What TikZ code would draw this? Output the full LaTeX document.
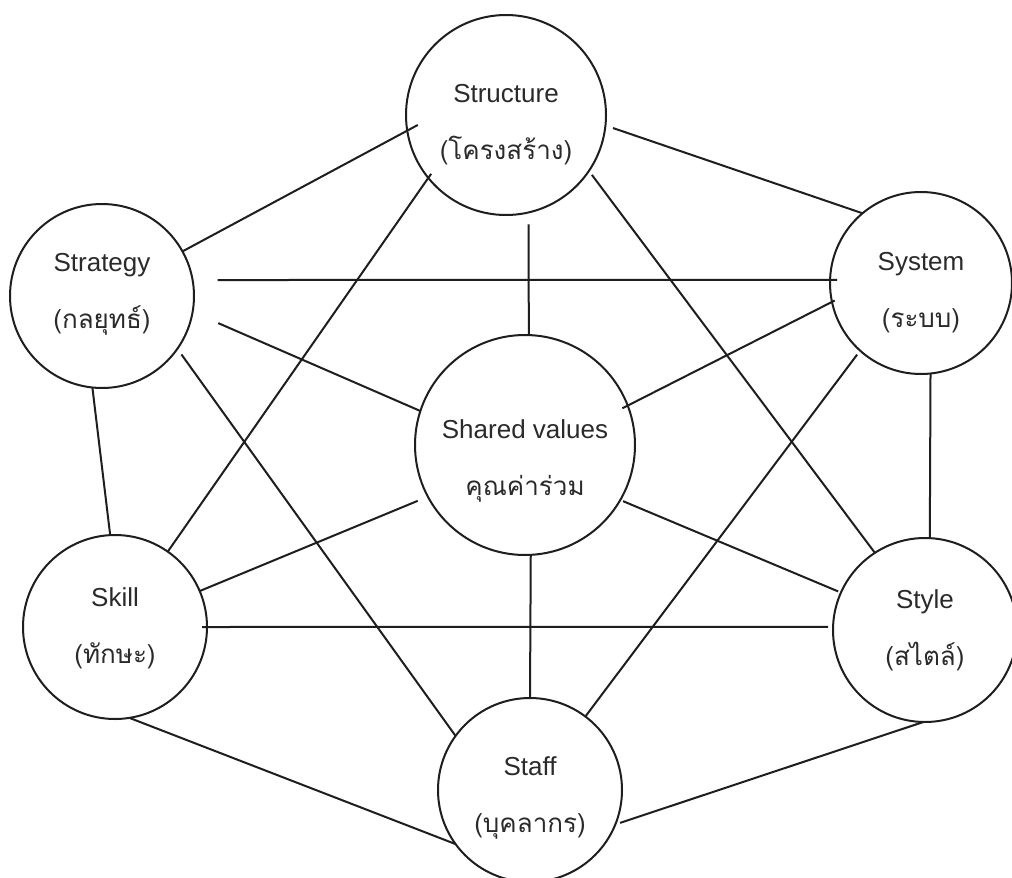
\documentclass[tikz,border=0pt]{standalone}
\usepackage{fontspec}
\setmainfont{Liberation Sans}
\newfontfamily\thaifont[Script=Thai]{Loma}
\definecolor{linec}{HTML}{1E1E1E}
\definecolor{textc}{HTML}{2A2A2A}
\tikzset{
  ring/.style={circle, draw=linec, line width=2pt, inner sep=0pt, outer sep=0pt},
  txt/.style={align=center, text=textc, inner sep=0pt, font=\fontsize{26}{57}\selectfont},
  link/.style={draw=linec, line width=2pt},
}
\begin{document}
\begin{tikzpicture}[x=1pt, y=-1pt]
\useasboundingbox (0,0) rectangle (1012,878);
\fill[white] (0,0) rectangle (1012,878);

\node[ring, minimum size=200pt, label={[txt, name=structure-t, yshift=-10pt]center:Structure\\{\thaifont (โครงสร้าง)}}] (structure) at (506,115) {};
\node[ring, minimum size=184pt, label={[txt, name=strategy-t, yshift=2pt]center:Strategy\\{\thaifont (กลยุทธ์)}}] (strategy) at (102,296) {};
\node[ring, minimum size=182pt, label={[txt, name=system-t, yshift=-10pt]center:System\\{\thaifont (ระบบ)}}] (system) at (921,283) {};
\node[ring, minimum size=220pt, label={[txt, name=shared-t, yshift=-16pt]center:Shared values\\{\thaifont คุณค่าร่วม}}] (shared) at (525,445) {};
\node[ring, minimum size=184pt, label={[txt, name=skill-t, yshift=-1pt]center:Skill\\{\thaifont (ทักษะ)}}] (skill) at (115,627) {};
\node[ring, minimum size=184pt, label={[txt, name=style-t]center:Style\\{\thaifont (สไตล์)}}] (style) at (925,630) {};
\node[ring, minimum size=184pt, label={[txt, name=staff-t, yshift=-8pt]center:Staff\\{\thaifont (บุคลากร)}}] (staff) at (530,790) {};

\draw[link, shorten >=-12pt] (strategy.29) -- (structure.189);
\draw[link, shorten <=8pt] (structure.-6) -- (system.130);
\draw[link, shorten <=25pt, shorten >=-7pt] (strategy.10) -- (system.178);
\draw[link, shorten <=28pt] (strategy.-10) -- (shared.162);
\draw[link] (strategy.264) -- (skill.93);
\draw[link, shorten <=7pt] (strategy.-35) -- (staff.144);
\draw[link, shorten <=-5pt] (structure.219) -- (skill.55);
\draw[link, shorten <=12pt] (structure.-77) -- (shared.88);
\draw[link, shorten <=5pt] (structure.-34) -- (style.123);
\draw[link, shorten <=-3pt, shorten >=-6pt] (system.192) -- (shared.21);
\draw[link] (system.-84) -- (style.87);
\draw[link, shorten <=5pt] (system.228) -- (staff.53);
\draw[link, shorten <=11pt] (shared.208) -- (skill.23);
\draw[link, shorten <=3pt, shorten >=3pt] (shared.-30) -- (style.156);
\draw[link] (shared.-87) -- (staff.90);
\draw[link, shorten <=-5pt, shorten >=5pt] (skill.0) -- (style.178);
\draw[link] (skill.-81) -- (staff.216);
\draw[link, shorten >=5pt] (style.269) -- (staff.-22);
\end{tikzpicture}
\end{document}
